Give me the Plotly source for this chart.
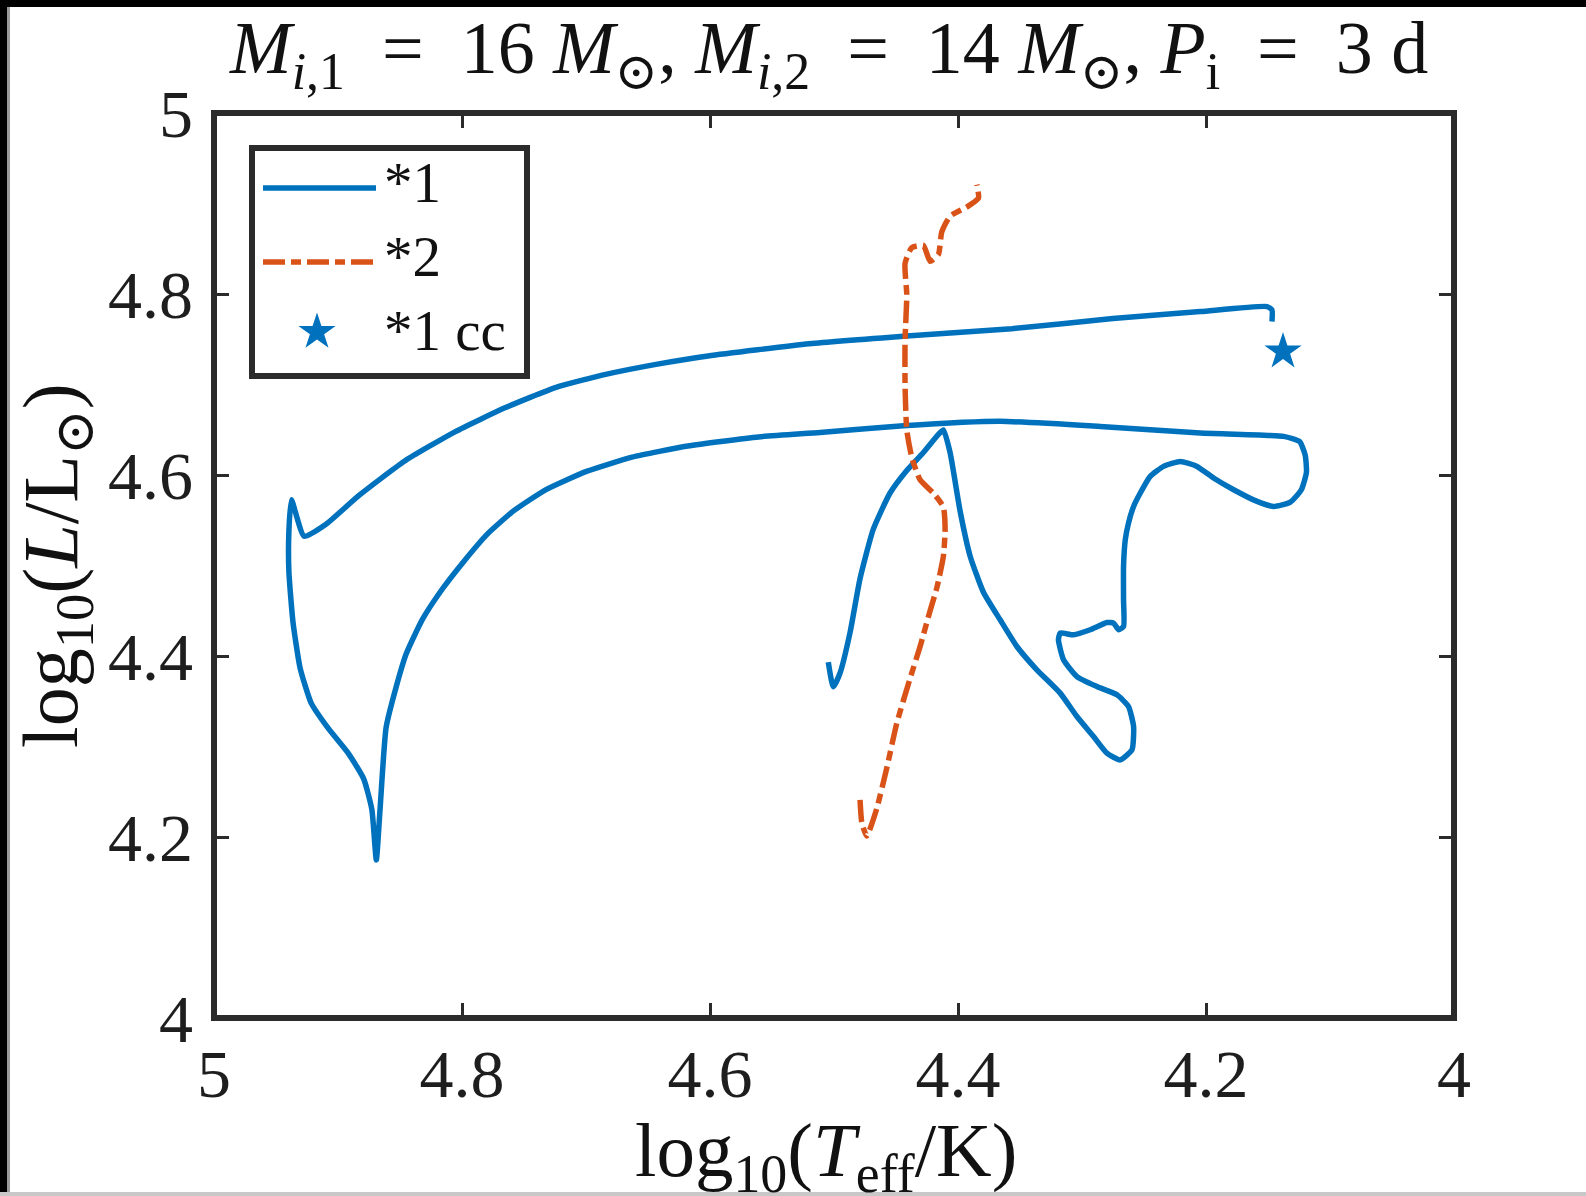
import plotly.graph_objects as go

# ---------------- data ----------------
# Star 1 (primary) track: log10(Teff/K), log10(L/Lsun)
t1_logT = [4.5046, 4.5006, 4.4952, 4.4871, 4.4790, 4.4683, 4.4548, 4.4413, 4.4279, 4.4158, 4.4118,
           4.4064, 4.3983, 4.3902, 4.3795, 4.3660, 4.3525, 4.3364, 4.3176, 4.3041, 4.2907, 4.2799,
           4.2692, 4.2597, 4.2584, 4.2625, 4.2718, 4.2880, 4.3041, 4.3149, 4.3190, 4.3176, 4.3069,
           4.2934, 4.2799, 4.2746, 4.2705, 4.2665, 4.2665, 4.2665, 4.2651, 4.2625, 4.2584, 4.2530,
           4.2450, 4.2342, 4.2207, 4.2073, 4.1939, 4.1777, 4.1588, 4.1454, 4.1320, 4.1230, 4.1190,
           4.1200, 4.1245, 4.1374, 4.2046, 4.2853, 4.3660, 4.4441,
           4.5113, 4.5608, 4.6180, 4.6629, 4.6996, 4.7322, 4.7584, 4.7796, 4.7992, 4.8163, 4.8318,
           4.8449, 4.8531, 4.8612, 4.8661, 4.8691,
           4.8727, 4.8792, 4.8914, 4.9078, 4.9216, 4.9306, 4.9363, 4.9396, 4.9396, 4.9376, 4.9273,
           4.9094, 4.8833, 4.8465, 4.8057, 4.7649, 4.7241, 4.6833, 4.6424, 4.6016, 4.5200, 4.4384,
           4.3567, 4.2751, 4.2046, 4.1508, 4.1468, 4.1468]
t1_logL = [4.3933, 4.3660, 4.3809, 4.4257, 4.4855, 4.5402, 4.5801, 4.6050, 4.6249, 4.6448, 4.6498,
           4.6249, 4.5601, 4.5103, 4.4705, 4.4400, 4.4105, 4.3847, 4.3590, 4.3331, 4.3110, 4.2926,
           4.2852, 4.2963, 4.3220, 4.3442, 4.3571, 4.3663, 4.3773, 4.3958, 4.4179, 4.4253, 4.4234,
           4.4290, 4.4370, 4.4364, 4.4290, 4.4326, 4.4621, 4.4990, 4.5285, 4.5469, 4.5653, 4.5801,
           4.5985, 4.6095, 4.6150, 4.6095, 4.5967, 4.5837, 4.5708, 4.5653, 4.5700, 4.5840, 4.6030,
           4.6220, 4.6370, 4.6427, 4.6464, 4.6537, 4.6593, 4.6544,
           4.6470, 4.6421, 4.6320, 4.6197, 4.6040, 4.5839, 4.5604, 4.5347, 4.5034, 4.4732, 4.4407,
           4.4027, 4.3658, 4.3210, 4.2304, 4.1747,
           4.2304, 4.2640, 4.2919, 4.3199, 4.3479, 4.3870, 4.4374, 4.4933, 4.5380, 4.5727, 4.5324,
           4.5459, 4.5772, 4.6152, 4.6477, 4.6745, 4.6969, 4.7114, 4.7225, 4.7315, 4.7450, 4.7539,
           4.7617, 4.7729, 4.7806, 4.7861, 4.7824, 4.7696]

# Star 2 (secondary) track
t2_logT = [4.4790, 4.4776, 4.4736, 4.4656, 4.4575, 4.4494, 4.4386, 4.4306, 4.4225, 4.4171,
           4.4118, 4.4104, 4.4118, 4.4198, 4.4306, 4.4373, 4.4413, 4.4427, 4.4427, 4.4413,
           4.4427, 4.4373, 4.4279, 4.4225, 4.4158, 4.4131, 4.4064, 4.3929, 4.3835, 4.3848]
t2_logL = [4.2410, 4.2161, 4.2011, 4.2311, 4.2758, 4.3256, 4.3755, 4.4103, 4.4501, 4.4752,
           4.5100, 4.5398, 4.5648, 4.5798, 4.5947, 4.6196, 4.6494, 4.6993, 4.7491, 4.7990,
           4.8338, 4.8512, 4.8537, 4.8362, 4.8437, 4.8686, 4.8860, 4.8961, 4.9059, 4.9209]

# Core collapse of star 1
cc_logT = [4.1379]
cc_logL = [4.7364]

x_tickvals = [5, 4.8, 4.6, 4.4, 4.2, 4]
x_ticktext = ["5", "4.8", "4.6", "4.4", "4.2", "4"]
y_tickvals = [4, 4.2, 4.4, 4.6, 4.8, 5]
y_ticktext = ["4", "4.2", "4.4", "4.6", "4.8", "5"]

legend_labels = ["*1", "*2", "*1 cc"]

title_text = ("<i>M</i><sub><i>i</i>,1</sub>  =  16 <i>M</i><sub>⊙</sub>, "
              "<i>M</i><sub><i>i</i>,2</sub>  =  14 <i>M</i><sub>⊙</sub>, "
              "<i>P</i><sub>i</sub>  =  3 d")
xlabel = "log<sub>10</sub>(<i>T</i><sub>eff</sub>/K)"
ylabel = "log<sub>10</sub>(<i>L</i>/L<sub>⊙</sub>)"

# ---------------- style ----------------
BLUE = "#0072BD"
ORANGE = "#D95319"
FRAME = "#2b2b2b"
FONT = "Liberation Serif, DejaVu Serif, serif"
DASH = "22px,6px,10px,6px"
LW = 5.5

W, H = 1586, 1196
L, R, T, B = 214, 132, 113, 178
PW = W - L - R
PH = H - T - B


def px(xp):
    return (xp - L) / PW


def py(yp):
    return (H - B - yp) / PH


fig = go.Figure()
fig.add_trace(go.Scatter(x=t1_logT, y=t1_logL, mode="lines",
                         line=dict(color=BLUE, width=LW, shape="spline", smoothing=0.5),
                         showlegend=False))
fig.add_trace(go.Scatter(x=t2_logT, y=t2_logL, mode="lines",
                         line=dict(color=ORANGE, width=LW, dash=DASH, shape="spline", smoothing=0.5),
                         showlegend=False))
fig.add_trace(go.Scatter(x=cc_logT, y=cc_logL, mode="markers",
                         marker=dict(symbol="star", size=28, color=BLUE, line=dict(width=0)),
                         showlegend=False))

# legend marker (pixel-space overlay axes)
fig.add_trace(go.Scatter(x=[317 - L], y=[-(332 - T)], xaxis="x2", yaxis="y2", mode="markers",
                         marker=dict(symbol="star", size=28, color=BLUE, line=dict(width=0)),
                         showlegend=False, hoverinfo="skip"))

axis_common = dict(showgrid=False, zeroline=False, showline=False, ticks="inside",
                   ticklen=15, tickwidth=3, tickcolor=FRAME, mirror="ticks",
                   tickfont=dict(family=FONT, size=68, color="#1e1e1e"))

fig.update_layout(
    width=W, height=H,
    margin=dict(l=L, r=R, t=T, b=B, pad=0),
    paper_bgcolor="white", plot_bgcolor="white",
    showlegend=False,
    xaxis=dict(range=[5, 4], tickvals=x_tickvals, ticktext=x_ticktext,
               ticklabelstandoff=10, **axis_common),
    yaxis=dict(range=[4, 5], tickvals=y_tickvals, ticktext=y_ticktext,
               ticklabelstandoff=20, **axis_common),
    xaxis2=dict(overlaying="x", range=[0, PW], visible=False),
    yaxis2=dict(overlaying="y", range=[-PH, 0], visible=False),
)

shapes = []
# axes frame
shapes.append(dict(type="rect", xref="paper", yref="paper", x0=0, x1=1, y0=0, y1=1,
                   line=dict(color=FRAME, width=6), layer="above"))
# legend box
shapes.append(dict(type="rect", xref="paper", yref="paper", x0=px(252), x1=px(527),
                   y0=py(148), y1=py(376), line=dict(color=FRAME, width=6), layer="above"))
shapes.append(dict(type="line", xref="paper", yref="paper", x0=px(263), x1=px(376),
                   y0=py(188), y1=py(188), line=dict(color=BLUE, width=LW), layer="above"))
shapes.append(dict(type="line", xref="paper", yref="paper", x0=px(263), x1=px(376),
                   y0=py(262), y1=py(262), line=dict(color=ORANGE, width=LW, dash=DASH),
                   layer="above"))
# page borders (scan edges)
shapes.append(dict(type="rect", xref="paper", yref="paper", x0=px(-5), x1=px(7),
                   y0=py(H + 5), y1=py(-5), line=dict(width=0), fillcolor="black", layer="above"))
shapes.append(dict(type="rect", xref="paper", yref="paper", x0=px(7), x1=px(10),
                   y0=py(H + 5), y1=py(-5), line=dict(width=0), fillcolor="#9a9a9a", layer="above"))
shapes.append(dict(type="rect", xref="paper", yref="paper", x0=px(-5), x1=px(W + 5),
                   y0=py(7), y1=py(-5), line=dict(width=0), fillcolor="black", layer="above"))
shapes.append(dict(type="rect", xref="paper", yref="paper", x0=px(-5), x1=px(W + 5),
                   y0=py(H + 5), y1=py(H - 4), line=dict(width=0), fillcolor="#c8c8c8", layer="above"))
fig.update_layout(shapes=shapes)

annotations = [
    dict(text=title_text, xref="paper", yref="paper", x=px(828), y=py(54),
         xanchor="center", yanchor="middle", showarrow=False,
         font=dict(family=FONT, size=74, color="#111111")),
    dict(text=xlabel, xref="paper", yref="paper", x=px(826), y=py(1155),
         xanchor="center", yanchor="middle", showarrow=False,
         font=dict(family=FONT, size=77, color="#111111")),
    dict(text=ylabel, xref="paper", yref="paper", x=px(56), y=py(566),
         xanchor="center", yanchor="middle", showarrow=False, textangle=-90,
         font=dict(family=FONT, size=78, color="#111111")),
]
legend_y = [182, 256, 330]
for lab, yy in zip(legend_labels, legend_y):
    annotations.append(dict(text=lab, xref="paper", yref="paper", x=px(382), y=py(yy),
                            xanchor="left", yanchor="middle", showarrow=False,
                            font=dict(family=FONT, size=57, color="#111111")))
fig.update_layout(annotations=annotations)

fig.write_html("out.html", config={"displayModeBar": False},
               post_script="document.body.style.margin='0';document.body.style.overflow='hidden';")
